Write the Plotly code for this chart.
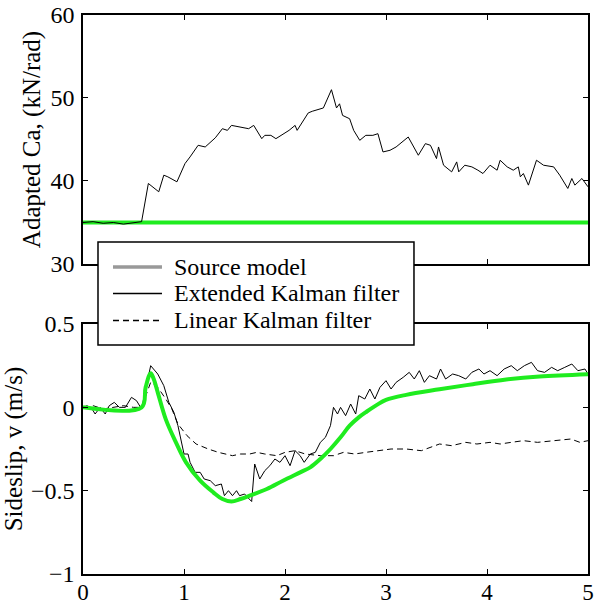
import plotly.graph_objects as go

# ---------------- data ----------------
top_t = [0, 0.1, 0.2, 0.3, 0.4, 0.5, 0.58, 0.647, 0.70, 0.75, 0.80, 0.84, 0.93, 1.01, 1.06,
         1.14, 1.21, 1.26, 1.31, 1.38, 1.43, 1.47, 1.54, 1.64, 1.69, 1.77, 1.80, 1.86, 1.91,
         1.99, 2.04, 2.10, 2.12, 2.23, 2.27, 2.38, 2.46, 2.51, 2.54, 2.57, 2.64, 2.68, 2.74,
         2.80, 2.87, 2.92, 2.97, 3.04, 3.10, 3.22, 3.32, 3.39, 3.44, 3.50, 3.52, 3.57, 3.65,
         3.70, 3.72, 3.78, 3.85, 3.91, 3.96, 4.03, 4.10, 4.13, 4.20, 4.26, 4.31, 4.33, 4.36,
         4.41, 4.49, 4.56, 4.66, 4.72, 4.80, 4.84, 4.87, 4.94, 5.0]
top_ekf = [35.0, 35.1, 34.9, 35.0, 34.8, 35.0, 35.1, 39.7, 39.2, 38.7, 40.7, 40.5, 39.9, 42.1,
           42.9, 44.3, 44.1, 44.7, 45.2, 46.3, 46.1, 46.7, 46.5, 46.3, 46.7, 45.1, 45.5, 45.5,
           45.1, 45.7, 46.1, 46.7, 46.1, 48.2, 48.4, 48.8, 51.0, 48.8, 49.3, 47.9, 47.5, 46.1,
           44.9, 45.5, 45.5, 45.7, 43.5, 43.7, 44.1, 45.3, 43.1, 44.5, 44.3, 42.7, 44.1, 41.9,
           41.1, 42.3, 41.1, 41.9, 41.7, 41.3, 40.9, 41.9, 41.3, 42.5, 41.7, 41.3, 41.7, 40.5,
           40.9, 39.5, 42.5, 41.9, 41.7, 40.7, 39.1, 40.3, 39.5, 40.3, 39.3]
top_src_t = [0, 5]
top_src = [35, 35]

bot_ekf_t = [0, 0.04, 0.09, 0.12, 0.17, 0.22, 0.26, 0.31, 0.36, 0.42, 0.48, 0.53, 0.58, 0.67,
             0.74, 0.80, 0.85, 0.90, 0.94, 1.00, 1.04, 1.06, 1.11, 1.16, 1.20, 1.26, 1.31, 1.37,
             1.40, 1.44, 1.48, 1.52, 1.55, 1.60, 1.63, 1.67, 1.70, 1.75, 1.80, 1.85, 1.90, 1.95,
             2.00, 2.05, 2.10, 2.15, 2.19, 2.25, 2.30, 2.35, 2.40, 2.45, 2.48, 2.52, 2.55, 2.60,
             2.65, 2.70, 2.73, 2.79, 2.84, 2.89, 2.94, 3.00, 3.05, 3.10, 3.17, 3.23, 3.28, 3.33,
             3.38, 3.43, 3.50, 3.54, 3.59, 3.66, 3.72, 3.79, 3.85, 3.92, 3.97, 4.03, 4.10, 4.17,
             4.24, 4.30, 4.37, 4.44, 4.50, 4.57, 4.64, 4.70, 4.77, 4.84, 4.90, 4.97, 5.00]
bot_ekf = [0, 0.01, -0.01, -0.04, 0.0, -0.04, 0.01, 0.03, 0.0, 0.0, 0.06, 0.04, -0.01, 0.25,
           0.20, 0.13, 0.03, -0.03, -0.11, -0.28, -0.28, -0.33, -0.39, -0.39, -0.43, -0.44,
           -0.47, -0.46, -0.53, -0.50, -0.53, -0.50, -0.53, -0.52, -0.54, -0.565, -0.34, -0.43,
           -0.38, -0.35, -0.31, -0.33, -0.29, -0.35, -0.26, -0.29, -0.33, -0.28, -0.27, -0.21,
           -0.18, -0.11, 0.0, -0.04, 0.0, -0.05, 0.02, -0.04, 0.07, 0.05, 0.11, 0.05, 0.12,
           0.16, 0.11, 0.15, 0.18, 0.21, 0.17, 0.22, 0.15, 0.19, 0.17, 0.23, 0.17, 0.20, 0.19,
           0.17, 0.21, 0.23, 0.20, 0.22, 0.19, 0.23, 0.25, 0.22, 0.25, 0.27, 0.22, 0.21, 0.24,
           0.22, 0.24, 0.26, 0.22, 0.23, 0.20]

bot_lkf_t = [0, 0.1, 0.2, 0.3, 0.4, 0.5, 0.58, 0.67, 0.74, 0.82, 0.88, 0.94, 1.03, 1.12, 1.24,
             1.34, 1.48, 1.56, 1.65, 1.72, 1.80, 1.92, 2.00, 2.10, 2.20, 2.35, 2.48, 2.58, 2.69,
             2.80, 2.94, 3.05, 3.20, 3.35, 3.53, 3.65, 3.79, 3.90, 4.03, 4.13, 4.24, 4.36, 4.50,
             4.65, 4.83, 4.92, 5.00]
bot_lkf = [0, 0.01, -0.01, 0.0, 0.01, 0.0, 0.0, 0.15, 0.12, 0.05, -0.01, -0.10, -0.17, -0.22,
           -0.25, -0.27, -0.29, -0.28, -0.28, -0.27, -0.28, -0.29, -0.27, -0.26, -0.28, -0.29,
           -0.29, -0.27, -0.28, -0.27, -0.26, -0.25, -0.25, -0.26, -0.22, -0.23, -0.21, -0.22,
           -0.21, -0.22, -0.21, -0.20, -0.21, -0.20, -0.19, -0.21, -0.20]

bot_src_t = [0, 0.58, 0.62, 0.67, 0.70, 0.74, 0.82, 0.92, 1.02, 1.16, 1.29, 1.38, 1.47, 1.56,
             1.65, 1.82, 1.98, 2.15, 2.25, 2.35, 2.45, 2.55, 2.64, 2.73, 2.81, 2.91, 3.00, 3.20,
             3.53, 3.86, 4.19, 4.52, 5.00]
bot_src = [0, 0, 0.12, 0.205, 0.17, 0.09, -0.072, -0.21, -0.33, -0.44, -0.51, -0.55, -0.565,
           -0.55, -0.53, -0.49, -0.44, -0.39, -0.36, -0.31, -0.25, -0.18, -0.11, -0.06, -0.025,
           0.015, 0.045, 0.075, 0.108, 0.139, 0.167, 0.185, 0.199]

x_ticks = [0, 1, 2, 3, 4, 5]
top_y_ticks = [30, 40, 50, 60]
bot_y_ticks = [-1, -0.5, 0, 0.5]
bot_y_labels = ["\u22121", "\u22120.5", "0", "0.5"]

legend_names = ["Source model", "Extended Kalman filter", "Linear Kalman filter"]

# ---------------- styles ----------------
GREEN = "#1fec1f"
FONT = "Liberation Serif"

fig = go.Figure()

# top panel
fig.add_trace(go.Scatter(x=top_src_t, y=top_src, mode="lines", xaxis="x", yaxis="y",
                         line=dict(color=GREEN, width=4), showlegend=False))
fig.add_trace(go.Scatter(x=top_t, y=top_ekf, mode="lines", xaxis="x", yaxis="y",
                         line=dict(color="black", width=1), showlegend=False))

# bottom panel
fig.add_trace(go.Scatter(x=bot_lkf_t, y=bot_lkf, mode="lines", xaxis="x2", yaxis="y2",
                         line=dict(color="black", width=1, dash="6px,4px"), showlegend=False))
fig.add_trace(go.Scatter(x=bot_ekf_t, y=bot_ekf, mode="lines", xaxis="x2", yaxis="y2",
                         line=dict(color="black", width=1), showlegend=False))
fig.add_trace(go.Scatter(x=bot_src_t, y=bot_src, mode="lines", xaxis="x2", yaxis="y2",
                         line=dict(color=GREEN, width=4, shape="spline", smoothing=1.0),
                         showlegend=False))

axis_common = dict(showline=True, linecolor="black", linewidth=1.5, mirror="ticks",
                   ticks="inside", ticklen=5, tickcolor="black", tickwidth=1,
                   showgrid=False, zeroline=False, automargin=False)
y_tickfont = dict(family=FONT, size=24, color="black")
x_tickfont = dict(family=FONT, size=23, color="black")

# ---- legend drawn as a box with sample lines and text (paper coordinates) ----
L_X0, L_X1, L_Y0, L_Y1 = 0.0297, 0.6554, 0.4097, 0.5939
row_y = [0.5492, 0.5018, 0.4535]
sample_x0, sample_x1, text_x = 0.0594, 0.1564, 0.1762
sample_styles = [dict(color="#999999", width=3.5), dict(color="black", width=1.3),
                 dict(color="black", width=1.3, dash="6px,4px")]

shapes = [dict(type="rect", xref="paper", yref="paper", x0=L_X0, x1=L_X1, y0=L_Y0, y1=L_Y1,
               line=dict(color="black", width=1.5), fillcolor="white", layer="above")]
annotations = []
for name, st, yy in zip(legend_names, sample_styles, row_y):
    shapes.append(dict(type="line", xref="paper", yref="paper", x0=sample_x0, x1=sample_x1,
                       y0=yy, y1=yy, line=st, layer="above"))
    annotations.append(dict(text=name, xref="paper", yref="paper", x=text_x, y=yy,
                            xanchor="left", yanchor="middle", showarrow=False,
                            font=dict(family=FONT, size=24, color="black")))

fig.update_layout(
    width=594, height=608,
    margin=dict(l=83, r=6, t=15, b=34, autoexpand=False),
    paper_bgcolor="white", plot_bgcolor="white",
    font=dict(family=FONT, color="black"),
    showlegend=False,
    xaxis=dict(domain=[0, 1], anchor="y", range=[0, 5], tickvals=x_ticks,
               showticklabels=False, tickfont=x_tickfont, **axis_common),
    yaxis=dict(domain=[0.5546, 1], anchor="x", range=[30, 60], tickvals=top_y_ticks,
               ticklabelstandoff=2, tickfont=y_tickfont,
               title=dict(text="Adapted Ca, (kN/rad)", font=dict(family=FONT, size=25),
                          standoff=3),
               **axis_common),
    xaxis2=dict(domain=[0, 1], anchor="y2", range=[0, 5], tickvals=x_ticks,
                ticktext=[str(v) for v in x_ticks], ticklabelstandoff=-3,
                tickfont=x_tickfont, **axis_common),
    yaxis2=dict(domain=[0, 0.4472], anchor="x2", range=[-1, 0.5], tickvals=bot_y_ticks,
                ticktext=bot_y_labels, ticklabelstandoff=2, tickfont=y_tickfont,
                title=dict(text="Sideslip, v (m/s)", font=dict(family=FONT, size=25),
                           standoff=3),
                **axis_common),
    shapes=shapes,
    annotations=annotations,
)

fig.write_html("out.html")
